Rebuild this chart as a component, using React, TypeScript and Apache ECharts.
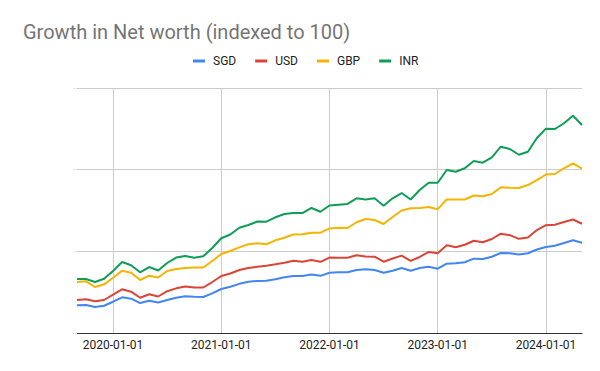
import React, { useEffect, useRef } from "react";
import * as echarts from "echarts";

const months: string[] = [
  "2019-09-01", "2019-10-01", "2019-11-01", "2019-12-01",
  "2020-01-01", "2020-02-01", "2020-03-01", "2020-04-01", "2020-05-01", "2020-06-01",
  "2020-07-01", "2020-08-01", "2020-09-01", "2020-10-01", "2020-11-01", "2020-12-01",
  "2021-01-01", "2021-02-01", "2021-03-01", "2021-04-01", "2021-05-01", "2021-06-01",
  "2021-07-01", "2021-08-01", "2021-09-01", "2021-10-01", "2021-11-01", "2021-12-01",
  "2022-01-01", "2022-02-01", "2022-03-01", "2022-04-01", "2022-05-01", "2022-06-01",
  "2022-07-01", "2022-08-01", "2022-09-01", "2022-10-01", "2022-11-01", "2022-12-01",
  "2023-01-01", "2023-02-01", "2023-03-01", "2023-04-01", "2023-05-01", "2023-06-01",
  "2023-07-01", "2023-08-01", "2023-09-01", "2023-10-01", "2023-11-01", "2023-12-01",
  "2024-01-01", "2024-02-01", "2024-03-01", "2024-04-01", "2024-05-01",
];

const sgd: number[] = [
  33.9, 34.3, 31.8, 33.4,
  38.3, 43.7, 42.0, 36.7, 39.6, 37.3, 40.4, 43.2, 44.9, 44.4, 44.1, 48.6,
  53.9, 56.7, 60.2, 62.8, 63.7, 63.9, 65.9, 68.3, 69.8, 69.8, 71.6, 70.0,
  73.8, 74.3, 74.3, 77.1, 78.0, 77.1, 73.8, 76.3, 79.6, 76.3, 79.6, 81.2,
  78.7, 84.9, 85.3, 86.6, 91.0, 90.6, 93.4, 98.0, 97.7, 96.1, 97.6, 102.2,
  105.3, 106.8, 110.2, 113.6, 110.5,
];

const usd: number[] = [
  40.4, 41.3, 38.8, 40.4,
  46.9, 53.5, 50.6, 43.2, 47.4, 44.7, 51.2, 54.7, 56.9, 55.7, 55.7, 62.4,
  69.8, 72.9, 77.1, 79.6, 81.1, 82.4, 84.1, 86.1, 88.5, 87.3, 89.4, 87.2,
  92.4, 92.2, 92.2, 95.3, 93.7, 93.4, 87.3, 91.2, 94.7, 88.4, 93.1, 99.2,
  97.7, 107.4, 104.9, 108.1, 113.0, 111.1, 115.1, 121.6, 119.8, 115.3, 116.9, 126.1,
  132.0, 132.6, 135.9, 139.0, 133.8,
];

const gbp: number[] = [
  62.4, 63.3, 56.3, 59.6,
  67.7, 76.3, 73.8, 64.9, 70.2, 68.0, 75.9, 78.4, 79.6, 80.2, 80.2, 88.2,
  96.7, 100.4, 104.9, 108.6, 109.8, 108.7, 113.5, 116.7, 120.6, 120.9, 122.8, 122.8,
  128.0, 128.9, 128.6, 135.6, 139.6, 138.4, 133.5, 142.0, 150.0, 152.8, 153.1, 154.3,
  151.6, 163.5, 163.5, 163.5, 168.4, 167.4, 170.2, 178.4, 177.9, 177.6, 181.2, 187.3,
  194.1, 194.7, 201.7, 207.8, 201.2,
];

const inr: number[] = [
  66.1, 66.1, 62.4, 66.5,
  75.9, 86.9, 82.9, 74.3, 80.8, 76.5, 85.7, 92.4, 94.3, 92.2, 93.9, 104.1,
  116.0, 120.6, 128.9, 132.2, 136.5, 136.3, 141.7, 145.7, 146.9, 146.9, 153.1, 148.5,
  156.1, 157.1, 158.0, 164.9, 163.5, 164.9, 155.9, 164.9, 171.4, 163.5, 175.1, 184.0,
  184.0, 199.6, 197.5, 201.7, 210.6, 208.5, 215.1, 228.1, 225.3, 218.3, 222.0, 238.8,
  250.2, 249.8, 256.8, 266.0, 254.7,
];

const seriesNames: string[] = ["SGD", "USD", "GBP", "INR"];
const seriesColors: string[] = ["#4285F4", "#DB4437", "#F4B400", "#0F9D58"];
const seriesData: number[][] = [sgd, usd, gbp, inr];

const titleText = "Growth in Net worth (indexed to 100)";
const FONT = "Roboto, Arial, sans-serif";

const isJan = (_i: number, v: string) => typeof v === "string" && v.slice(5) === "01-01";

export default function App() {
  const ref = useRef<HTMLDivElement>(null);
  useEffect(() => {
    if (!ref.current) return;
    const chart = echarts.init(ref.current, undefined, { renderer: "svg" });
    chart.setOption({
      animation: false,
      backgroundColor: "#ffffff",
      title: {
        text: titleText,
        left: 18,
        top: 17,
        textStyle: { fontFamily: FONT, fontSize: 20, fontWeight: "normal", color: "#757575" },
      },
      legend: {
        left: 188,
        top: 50,
        icon: "rect",
        itemWidth: 12,
        itemHeight: 3,
        itemGap: 19,
        data: seriesNames,
        textStyle: { fontFamily: FONT, fontSize: 12, color: "#222222", padding: [0, 0, 0, 3] },
      },
      grid: { left: 77, right: 18, top: 88, bottom: 38, containLabel: false },
      xAxis: {
        type: "category",
        data: months,
        boundaryGap: false,
        axisLine: { show: true, lineStyle: { color: "#333333", width: 1 } },
        axisTick: { show: false },
        axisLabel: {
          interval: isJan,
          margin: 6,
          fontFamily: FONT,
          fontSize: 12,
          color: "#222222",
        },
        splitLine: { show: true, interval: isJan, lineStyle: { color: "#cccccc", width: 1 } },
      },
      yAxis: {
        type: "value",
        min: 0,
        max: 300,
        interval: 100,
        axisLine: { show: false },
        axisTick: { show: true, length: 4, lineStyle: { color: "#e6e6e6" } },
        axisLabel: { show: false },
        splitLine: { show: true, lineStyle: { color: "#cccccc", width: 1 } },
      },
      series: seriesNames.map((name, i) => ({
        name,
        type: "line",
        data: seriesData[i],
        showSymbol: false,
        symbol: "none",
        lineStyle: { color: seriesColors[i], width: 2 },
        itemStyle: { color: seriesColors[i] },
      })),
    });
    return () => chart.dispose();
  }, []);
  return <div ref={ref} style={{ width: 600, height: 371, position: "absolute", left: 0, top: 0 }} />;
}
